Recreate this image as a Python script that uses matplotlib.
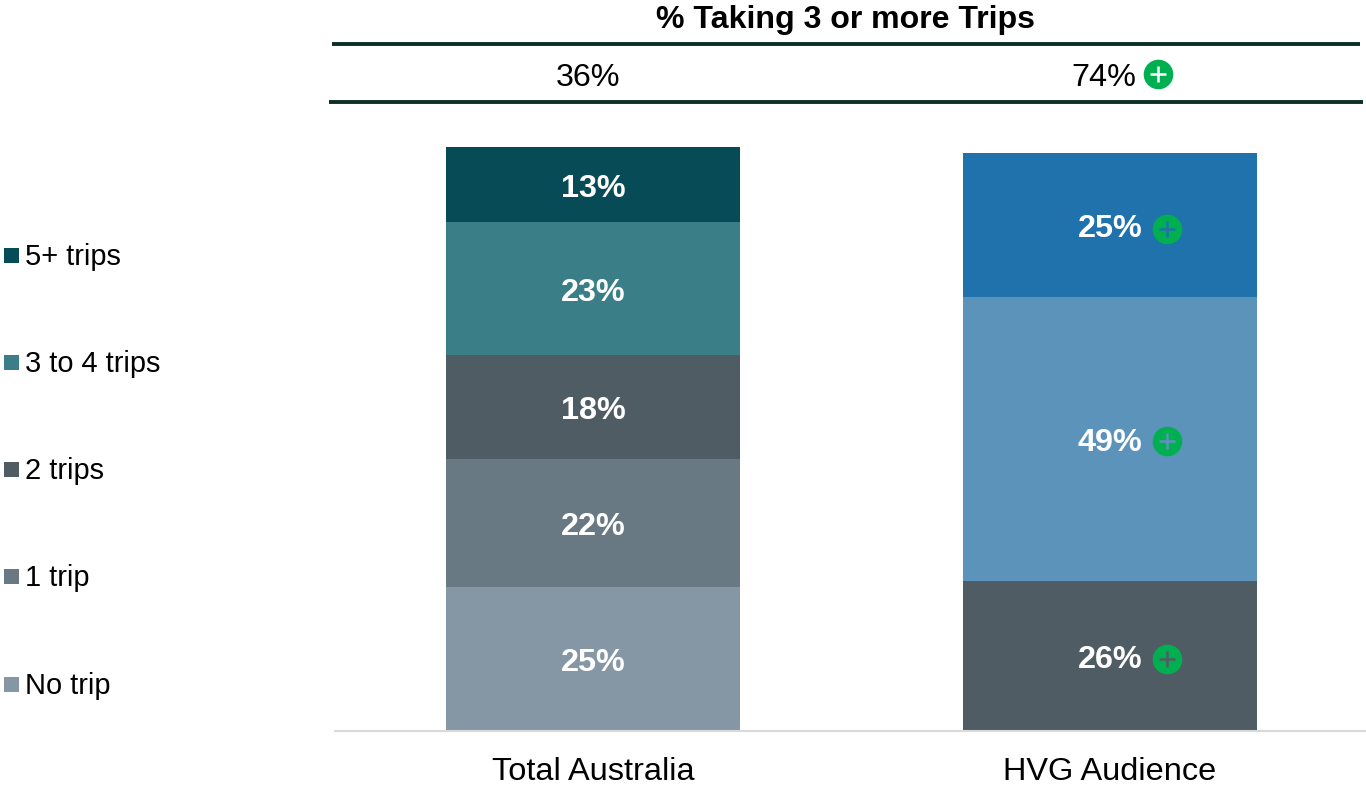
import matplotlib
matplotlib.use("Agg")
import matplotlib.pyplot as plt
from matplotlib.patches import Rectangle

plt.rcParams['font.family'] = ['Liberation Sans', 'DejaVu Sans']

categories = ["Total Australia", "HVG Audience"]
headline = ["36%", "74%"]
title = "% Taking 3 or more Trips"
legend_labels = ["5+ trips", "3 to 4 trips", "2 trips", "1 trip", "No trip"]
legend_colors = ["#064B55", "#3A7E87", "#505C64", "#697983", "#8597A5"]

total_vals = [25, 22, 18, 23, 13]
total_cols = ["#8597A5", "#697983", "#505C64", "#3A7E87", "#064B55"]
hvg_vals = [26, 49, 25]
hvg_cols = ["#505C64", "#5C93BA", "#1F72AB"]

W, H = 1366, 785
FS = 23.3
fig = plt.figure(figsize=(W / 100, H / 100), dpi=100)
def fx(p): return p / W
def fy(p): return 1 - p / H
PX = 101 / 584.3  # data units per pixel, vertically

ax = fig.add_axes([fx(335), fy(731.3), (1366 - 335) / W, 584.3 / H])
ax.set_xlim(-0.499, 1.495)
ax.set_ylim(0, 101)
for s in ["top", "left", "right"]:
    ax.spines[s].set_visible(False)
ax.spines["bottom"].set_color("#D9D9D9")
ax.spines["bottom"].set_linewidth(1.5)
ax.set_yticks([])
ax.set_xticks([0, 1])
ax.set_xticklabels(categories, fontsize=23.4, color="black")
ax.tick_params(axis="x", length=0, pad=18.2)
ax.patch.set_alpha(0)

BW = 294 / 517
GREEN = "#00B050"
def plus(x, y, pcol):
    ax.plot([x], [y], "o", ms=21.3, color=GREEN, mec="none", clip_on=False, zorder=5)
    ax.plot([x], [y], "+", ms=11, mew=1.8, color=pcol, clip_on=False, zorder=6)

b = 0
for v, c in zip(total_vals, total_cols):
    ax.bar(0, v, BW, bottom=b, color=c, linewidth=0)
    ax.text(0, b + v / 2 - 4 * PX, f"{v}%", ha="center", va="center", color="white",
            fontsize=FS, fontweight="bold", zorder=4)
    b += v

b = 0
for v, c, dy in zip(hvg_vals, hvg_cols, [2.5, 1.5, 3.5]):
    ax.bar(1, v, BW, bottom=b, color=c, linewidth=0)
    y = b + v / 2
    ax.text(1, y - 4 * PX, f"{v}%", ha="center", va="center", color="white",
            fontsize=FS, fontweight="bold", zorder=4)
    plus(1 + 0.111, y - dy * PX, c)
    b += v

# header
fig.text(fx(846), fy(20), title, ha="center", va="center", fontsize=23.1, fontweight="bold")
fig.add_artist(plt.Line2D([fx(332), fx(1360)], [fy(44), fy(44)], color="#0B2F26", lw=2.8,
                          solid_capstyle="butt"))
fig.add_artist(plt.Line2D([fx(329), fx(1363)], [fy(102), fy(102)], color="#0B2F26", lw=2.8,
                          solid_capstyle="butt"))
fig.text(fx(588), fy(78), headline[0], ha="center", va="center", fontsize=FS)
fig.text(fx(1104), fy(78), headline[1], ha="center", va="center", fontsize=FS)
hx = (1157.5 - 593) / 517
hy = 101 + (147 - 74) * PX
ax.plot([hx], [hy], "o", ms=21.3, color=GREEN, mec="none", clip_on=False, zorder=5)
ax.plot([hx], [hy], "+", ms=11, mew=1.8, color="white", clip_on=False, zorder=6)

# legend
for lab, c, yc in zip(legend_labels, legend_colors, [255.5, 362.5, 469.5, 576.5, 684]):
    fig.add_artist(Rectangle((fx(4), fy(yc + 7.5)), 15 / W, 15 / H, color=c, lw=0,
                             transform=fig.transFigure))
    fig.text(fx(25), fy(yc + 1.5), lab, ha="left", va="center", fontsize=20.9)

fig.savefig("out.png", dpi=100)
